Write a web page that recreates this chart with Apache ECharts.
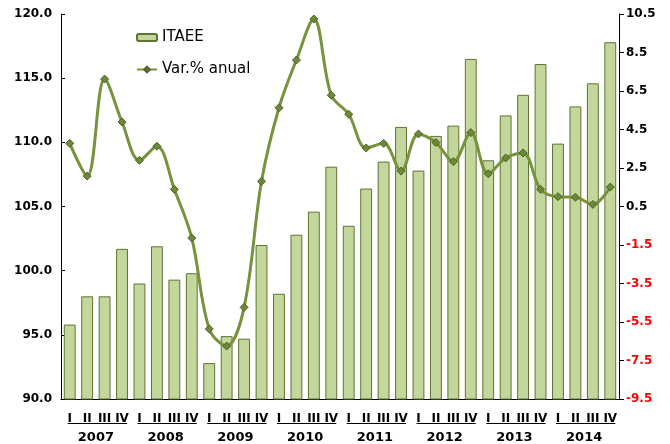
<!DOCTYPE html>
<html>
<head>
<meta charset="utf-8">
<script src="https://cdn.jsdelivr.net/npm/echarts@6/dist/echarts.min.js"></script>
<style>
	html, body { margin: 0; padding: 0; background: #fff; }
	#chart { width: 670px; height: 444px; }
</style>
</head>
<body>
<div id="chart"></div>
<script>
	var years = ['2007', '2008', '2009', '2010', '2011', '2012', '2013', '2014'];
	var quarters = ['I', 'II', 'III', 'IV'];

	// ITAEE index, quarterly 2007-I .. 2014-IV
	var itaee = [
		95.8, 98.0, 98.0, 101.7,
		99.0, 101.9, 99.3, 99.8,
		92.8, 94.9, 94.7, 102.0,
		98.2, 102.8, 104.6, 108.1,
		103.5, 106.4, 108.5, 111.2,
		107.8, 110.5, 111.3, 116.5,
		108.6, 112.1, 113.7, 116.1,
		109.9, 112.8, 114.6, 117.8
	];

	// Var.% anual
	var varAnual = [
		3.78, 2.08, 7.12, 4.89,
		2.90, 3.63, 1.39, -1.14,
		-5.86, -6.75, -4.74, 1.81,
		5.63, 8.11, 10.24, 6.28,
		5.29, 3.54, 3.78, 2.34,
		4.27, 3.82, 2.83, 4.34,
		2.20, 3.02, 3.28, 1.39,
		1.01, 0.98, 0.61, 1.51
	];

	var categories = [];
	years.forEach(function(y) {
		quarters.forEach(function(q) {
			categories.push(y + '-' + q);
		});
	});

	var font = 'DejaVu Sans';
	var chart = echarts.init(document.getElementById('chart'));

	var option = {
		animation: false,
		textStyle: { fontFamily: font },
		grid: { left: 61, right: 51, top: 14, bottom: 45 },
		legend: {
			orient: 'vertical',
			left: 131,
			top: 25,
			itemGap: 17,
			itemWidth: 20,
			itemHeight: 7,
			textStyle: { fontFamily: font, fontSize: 15, color: '#000' },
			data: ['ITAEE', 'Var.% anual']
		},
		xAxis: [{
			type: 'category',
			data: categories,
			axisLine: { onZero: false, lineStyle: { color: '#000', width: 1 } },
			axisTick: { interval: 0, length: 4, lineStyle: { color: '#000' } },
			axisLabel: {
				interval: 0,
				margin: 14,
				color: '#000',
				fontWeight: 'bold',
				fontSize: 12,
				fontFamily: font,
				formatter: function(v) { return v.split('-')[1]; }
			}
		}, {
			type: 'category',
			data: years,
			position: 'bottom',
			offset: 24,
			axisLine: { show: false, onZero: false },
			axisTick: { show: false },
			axisLabel: {
				interval: 0,
				margin: 8,
				color: '#000',
				fontWeight: 'bold',
				fontSize: 13,
				fontFamily: font
			}
		}, {
			// second set of ticks so they cross the axis line
			type: 'category',
			data: categories,
			position: 'bottom',
			axisLine: { show: false, onZero: false },
			axisTick: { interval: 0, inside: true, length: 4, lineStyle: { color: '#000' } },
			axisLabel: { show: false }
		}],
		yAxis: [{
			type: 'value',
			min: 90,
			max: 120,
			interval: 5,
			splitLine: { show: false },
			axisLine: { show: true, lineStyle: { color: '#000' } },
			axisTick: { show: true, inside: true, length: 4, lineStyle: { color: '#000' } },
			axisLabel: {
				color: '#000',
				fontWeight: 'bold',
				fontSize: 12,
				margin: 9,
				fontFamily: font,
				formatter: function(v) { return v.toFixed(1); }
			}
		}, {
			type: 'value',
			min: -9.5,
			max: 10.5,
			interval: 2,
			splitLine: { show: false },
			axisLine: { show: true, lineStyle: { color: '#000' } },
			axisTick: { show: true, length: 5, lineStyle: { color: '#000' } },
			axisLabel: {
				fontWeight: 'bold',
				fontSize: 12,
				margin: 7,
				fontFamily: font,
				color: function(v) { return Number(v) < 0 ? '#ff0000' : '#000'; },
				formatter: function(v) { return v.toFixed(1); }
			}
		}],
		series: [{
			name: 'ITAEE',
			type: 'bar',
			data: itaee,
			barCategoryGap: '32%',
			itemStyle: { color: '#c3d69b', borderColor: '#5f7432', borderWidth: 1 }
		}, {
			name: 'Var.% anual',
			type: 'line',
			yAxisIndex: 1,
			data: varAnual,
			smooth: 0.35,
			symbol: 'diamond',
			symbolSize: 8,
			lineStyle: { color: '#77933c', width: 3 },
			itemStyle: { color: '#6b8a35', borderColor: '#4f6228', borderWidth: 1 }
		}]
	};

	chart.setOption(option);

	// group brackets under each year's quarter labels
	var lines = [];
	years.forEach(function(y, i) {
		var x0 = chart.convertToPixel({ xAxisIndex: 0 }, categories[i * 4]);
		var x1 = chart.convertToPixel({ xAxisIndex: 0 }, categories[i * 4 + 3]);
		lines.push({
			type: 'line',
			shape: { x1: x0 - 2, y1: 423.5, x2: x1 + 5, y2: 423.5 },
			style: { stroke: '#000', lineWidth: 1.2 }
		});
	});
	chart.setOption({ graphic: lines });
</script>
</body>
</html>
